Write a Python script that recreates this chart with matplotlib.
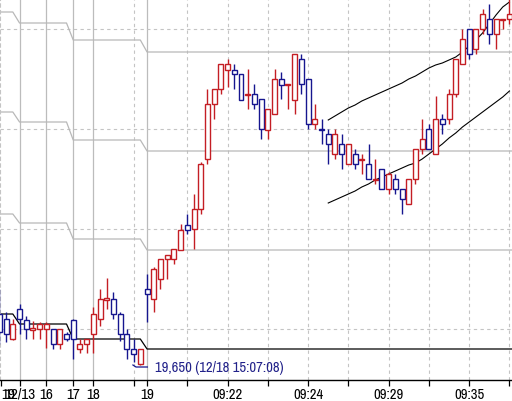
import matplotlib
matplotlib.use("Agg")
import matplotlib.pyplot as plt
from matplotlib.patches import Rectangle
from matplotlib import font_manager
import numpy as np

# ---------------- data ----------------
opens = [19701, 19696, 19676, 19706, 19695, 19685, 19686, 19686, 19686, 19671,
         19681, 19695, 19666, 19671, 19681, 19696, 19715, 19716, 19701, 19681,
         19666, 19651, 19726, 19716, 19736, 19756, 19756, 19765, 19790, 19786,
         19806, 19856, 19911, 19926, 19945, 19945, 19941, 19920, 19921, 19916,
         19885, 19901, 19936, 19930, 19915, 19956, 19936, 19891, 19886, 19881,
         19861, 19871, 19851, 19861, 19855, 19851, 19835, 19846, 19826, 19836,
         19826, 19811, 19836, 19866, 19886, 19861, 19896, 19896, 19921, 19951,
         19986, 19966, 19986, 19996, 19981, 19995, 19996]
highs = [19726, 19703, 19696, 19711, 19699, 19694, 19693, 19693, 19686, 19686,
         19683, 19696, 19676, 19676, 19708, 19726, 19737, 19723, 19703, 19686,
         19676, 19666, 19741, 19748, 19756, 19760, 19766, 19791, 19801, 19821,
         19853, 19926, 19926, 19951, 19956, 19951, 19941, 19946, 19931, 19916,
         19906, 19946, 19943, 19931, 19961, 19961, 19936, 19911, 19896, 19886,
         19886, 19881, 19871, 19866, 19861, 19871, 19856, 19846, 19843, 19841,
         19826, 19836, 19866, 19896, 19891, 19919, 19901, 19926, 19956, 19986,
         19986, 19986, 20006, 20011, 19996, 19996, 20016]
lows = [19671, 19673, 19675, 19681, 19676, 19676, 19676, 19667, 19666, 19666,
        19674, 19656, 19662, 19662, 19662, 19689, 19706, 19696, 19674, 19656,
        19653, 19650, 19693, 19703, 19726, 19736, 19751, 19765, 19781, 19766,
        19801, 19851, 19896, 19921, 19928, 19926, 19915, 19906, 19906, 19876,
        19876, 19901, 19916, 19906, 19901, 19921, 19886, 19886, 19871, 19851,
        19856, 19846, 19851, 19846, 19841, 19836, 19831, 19826, 19821, 19821,
        19801, 19811, 19831, 19861, 19866, 19861, 19881, 19891, 19918, 19951,
        19956, 19961, 19981, 19971, 19966, 19986, 19991]
closes = [19683, 19681, 19691, 19696, 19686, 19687, 19691, 19691, 19671, 19686,
          19676, 19676, 19671, 19676, 19701, 19716, 19717, 19701, 19681, 19666,
          19661, 19666, 19721, 19746, 19756, 19760, 19766, 19785, 19785, 19806,
          19851, 19911, 19926, 19951, 19951, 19941, 19915, 19921, 19911, 19886,
          19906, 19936, 19930, 19931, 19961, 19931, 19891, 19896, 19885, 19871,
          19881, 19861, 19871, 19851, 19856, 19836, 19836, 19826, 19841, 19826,
          19816, 19836, 19866, 19876, 19866, 19896, 19891, 19921, 19956, 19976,
          19961, 19986, 20001, 19981, 19996, 19996, 20001]

# step levels (change at bar index in level_starts)
level_starts = [0, 3, 11, 22]
level_base = [19701, 19691, 19676, 19666]
level_1 = [19801, 19792, 19776, 19765]
level_2 = [19903, 19893, 19875, 19864]
level_3 = [20003, 19992, 19975, 19963]

# channel lines from bar 49 onward
band_start = 49
band_upper = [19895, 19899, 19903, 19907, 19910, 19914, 19917, 19920, 19923, 19926,
              19929, 19932, 19936, 19939, 19943, 19947, 19950, 19952, 19955, 19958,
              19963, 19969, 19975, 19982, 19991, 20000, 20008, 20013]
band_lower = [19812, 19815, 19818, 19821, 19824, 19828, 19831, 19835, 19838, 19841,
              19844, 19847, 19850, 19852, 19856, 19861, 19866, 19871, 19877, 19882,
              19888, 19893, 19898, 19903, 19908, 19913, 19918, 19924]

# x axis
tick_pos = [0.24, 3, 7, 11, 14, 20, 22, 28, 34, 40, 46, 52, 58, 64, 70, 76]
tick_labels = ["19", "12/13", "16", "17", "18", "", "19", "", "09:22", "",
               "09:24", "", "09:29", "", "09:35", ""]
date_labels = {"19", "12/13", "16", "17", "18"}
solid_vgrid = [3, 7, 11, 14, 22]
dashed_vgrid = [20, 28, 34, 40, 46, 52, 58, 64, 70, 76]
dashed_hgrid = [19986, 19886, 19786, 19686]

low_label = "19,650 (12/18 15:07:08)"

# ---------------- style ----------------
fam, stretch = "DejaVu Sans", "normal"
flist = font_manager.fontManager.ttflist
narrow = [f for f in flist if ("Narrow" in f.name or "Condensed" in f.name)]
cond = [f for f in flist if str(f.stretch) in ("condensed", "semi-condensed", "extra-condensed")]
if any(f.name == "Liberation Sans Narrow" for f in flist):
    fam = "Liberation Sans Narrow"
elif narrow:
    fam = narrow[0].name
elif cond:
    pick = [f for f in cond if f.name == "DejaVu Sans"] or cond
    fam, stretch = pick[0].name, str(pick[0].stretch)
plt.rcParams["font.family"] = [fam, "DejaVu Sans"]
plt.rcParams["font.stretch"] = stretch

RED = "#c41e24"
BLUE = "#16168f"
GRID = "#c4c4c4"
DASH = (0, (3, 3))

fig = plt.figure(figsize=(5.12, 4.02), dpi=100)
ax = fig.add_axes([0, 21 / 402, 1, 381 / 402])
ax.set_xlim(0.09, 76.38)
ax.set_ylim(19635, 20016)

for x in dashed_vgrid:
    ax.axvline(x, color=GRID, lw=0.8, ls=DASH, zorder=0)
for x in solid_vgrid:
    ax.axvline(x, color="#bcbcbc", lw=0.9, zorder=0)
for y in dashed_hgrid:
    ax.axhline(y, color=GRID, lw=0.8, ls=DASH, zorder=0)


def step_line(levels):
    xs, ys = [], []
    for k, lv in enumerate(levels):
        start = level_starts[k] if k > 0 else -2
        end = level_starts[k + 1] - 1 if k + 1 < len(levels) else 80
        xs += [start, end]
        ys += [lv, lv]
    return xs, ys


for lv in (level_1, level_2, level_3):
    xs, ys = step_line(lv)
    ax.plot(xs, ys, color="#b8b8b8", lw=0.9, zorder=1)
xs, ys = step_line(level_base)
ax.plot(xs, ys, color="black", lw=0.9, zorder=1)

bx = np.arange(band_start, band_start + len(band_upper))
ax.plot(bx, band_upper, color="black", lw=0.8, zorder=2)
ax.plot(bx, band_lower, color="black", lw=0.8, zorder=2)

w = 0.74
for i, (o, h, l, c) in enumerate(zip(opens, highs, lows, closes)):
    col = RED if c >= o else BLUE
    ax.vlines(i, l, h, color=col, lw=1.0, zorder=3)
    ax.add_patch(Rectangle((i - w / 2, min(o, c)), w, abs(c - o),
                           facecolor="white", edgecolor=col, lw=1.0, zorder=4))

# low annotation
low_i = int(np.argmin(lows))
low_v = lows[low_i]
ax.plot([low_i + 1.05, low_i - 0.65, low_i - 1.1],
        [low_v - 2, low_v - 2, low_v], color=BLUE, lw=0.9, zorder=5)
ax.text(low_i + 2.2, low_v - 2, low_label, color="#22228a", fontsize=10.5,
        va="center", ha="left", zorder=5)

# axes styling
for s in ("top", "right"):
    ax.spines[s].set_visible(False)
ax.spines["left"].set_color(GRID)
ax.spines["left"].set_linestyle(DASH)
ax.spines["left"].set_linewidth(0.8)
ax.spines["bottom"].set_color("black")
ax.spines["bottom"].set_linewidth(1.0)
ax.set_yticks([])
ax.set_xticks(tick_pos)
ax.set_xticklabels(tick_labels)
ax.tick_params(axis="x", length=4, width=0.9, pad=1, labelsize=10.5, colors="black")
for lab in ax.get_xticklabels():
    if lab.get_text() in date_labels:
        lab.set_fontweight("bold")
        lab.set_fontsize(11)
ax.get_xticklabels()[0].set_ha("left")

fig.savefig("out.png", dpi=100, facecolor="white")
